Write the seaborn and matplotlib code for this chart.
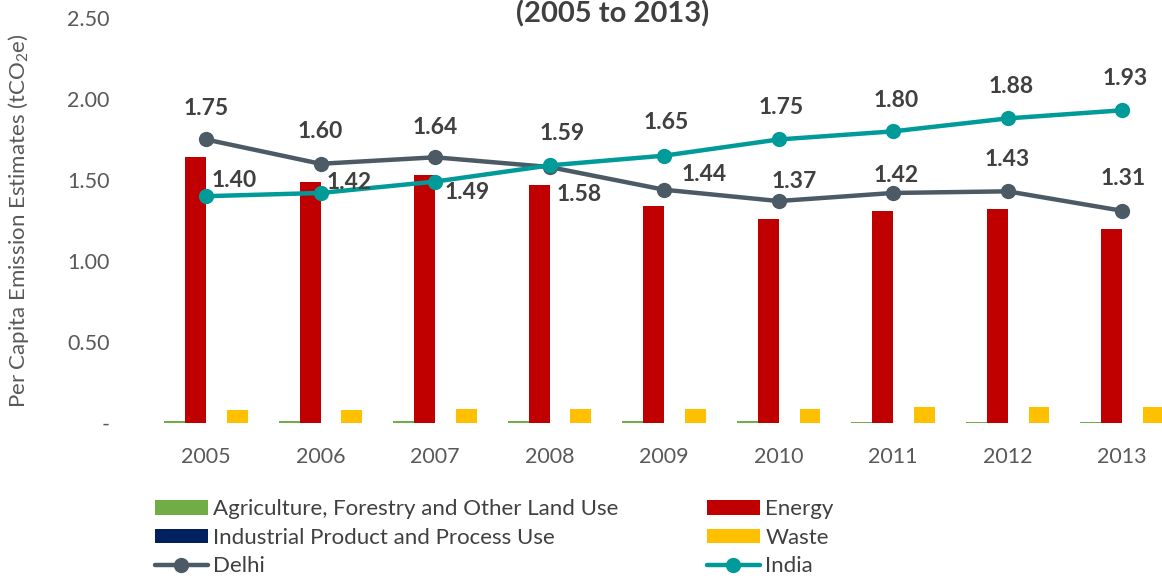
import numpy as np
import pandas as pd
import seaborn as sns
from matplotlib import pyplot as plt

# values
years = ["2005", "2006", "2007", "2008", "2009", "2010", "2011", "2012", "2013"]
agriculture = [0.012, 0.012, 0.014, 0.012, 0.011, 0.012, 0.008, 0.005, 0.005]
energy = [1.64, 1.49, 1.53, 1.47, 1.34, 1.26, 1.31, 1.32, 1.20]
industrial = [0.002, 0.002, 0.002, 0.002, 0.002, 0.002, 0.002, 0.002, 0.002]
waste = [0.08, 0.08, 0.085, 0.085, 0.085, 0.085, 0.10, 0.10, 0.10]
delhi = [1.75, 1.60, 1.64, 1.58, 1.44, 1.37, 1.42, 1.43, 1.31]
india = [1.40, 1.42, 1.49, 1.59, 1.65, 1.75, 1.80, 1.88, 1.93]

sectors = ["Agriculture, Forestry and Other Land Use", "Energy",
           "Industrial Product and Process Use", "Waste"]
sector_colors = ["#70AD47", "#C00000", "#002060", "#FFC000"]
delhi_color = "#4B5A64"
india_color = "#009B98"
text_color = "#404040"

# label offsets in pixels (dx, dy) relative to the marker
delhi_offsets = [(0, 31), (0, 32), (0, 30), (30, -27), (40, 15), (16, 20), (3, 17), (0, 32), (1, 32)]
india_offsets = [(28, 16), (29, 10), (32, -11), (13, 32), (2, 33), (3, 32), (3, 31), (3, 32), (3, 32)]

df = pd.DataFrame({
    "year": years * 4,
    "sector": np.repeat(sectors, len(years)),
    "value": agriculture + energy + industrial + waste,
})

sns.set_theme(style="white")
plt.rcParams["font.family"] = ["Lato", "DejaVu Sans"]
plt.rcParams["mathtext.fontset"] = "custom"
plt.rcParams["mathtext.rm"] = "Lato"
plt.rcParams["mathtext.it"] = "Lato:italic"

fig = plt.figure(figsize=(11.62, 5.78), dpi=100)
ax = fig.add_axes([0.128, 0.268, 0.887, 0.701])

sns.barplot(data=df, x="year", y="value", hue="sector", hue_order=sectors,
            palette=sector_colors, width=0.73, saturation=1, linewidth=0, ax=ax)

xpos = np.arange(len(years))
sns.lineplot(x=xpos, y=delhi, color=delhi_color, linewidth=3.2, marker="o",
             markersize=11, markeredgewidth=0, label="Delhi", ax=ax)
sns.lineplot(x=xpos, y=india, color=india_color, linewidth=3.2, marker="o",
             markersize=11, markeredgewidth=0, label="India", ax=ax)

for x, v, off in zip(xpos, delhi, delhi_offsets):
    ax.annotate(f"{v:.2f}", (x, v), xytext=off, textcoords="offset pixels",
                ha="center", va="center", fontsize=16.5, fontweight="bold", color=text_color)
for x, v, off in zip(xpos, india, india_offsets):
    ax.annotate(f"{v:.2f}", (x, v), xytext=off, textcoords="offset pixels",
                ha="center", va="center", fontsize=16.5, fontweight="bold", color=text_color)

ax.set_xlim(-0.5, 8.5)
ax.set_ylim(0, 2.5)
yt = [0, 0.5, 1.0, 1.5, 2.0, 2.5]
ax.set_yticks(yt)
ax.set_yticklabels(["-"] + [f"{t:.2f}" for t in yt[1:]])
ax.tick_params(axis="both", length=0, labelsize=15.5, labelcolor="#595959")
ax.tick_params(axis="y", pad=28)
ax.tick_params(axis="x", pad=17)
ax.set_xlabel("")
ax.set_ylabel(r"Per Capita Emission Estimates (tCO$_2$e)", fontsize=16,
              color="#595959", labelpad=26)
for s in ax.spines.values():
    s.set_visible(False)

handles, labels = ax.get_legend_handles_labels()
ax.get_legend().remove()
lookup = dict(zip(labels, handles))
order = [sectors[0], sectors[2], "Delhi", sectors[1], sectors[3], "India"]
fig.legend([lookup[k] for k in order], order, ncol=2, loc="upper left",
           bbox_to_anchor=(0.133, 0.136), frameon=False, fontsize=16,
           labelcolor=text_color, handlelength=2.4, handleheight=0.65,
           handletextpad=0.25, columnspacing=3.95, labelspacing=0.38,
           borderaxespad=0, borderpad=0)

fig.text(0.527, 1.0, "(2005 to 2013)", ha="center", va="top",
         fontsize=21, fontweight="bold", color=text_color)

fig.savefig("out.png", dpi=100)
